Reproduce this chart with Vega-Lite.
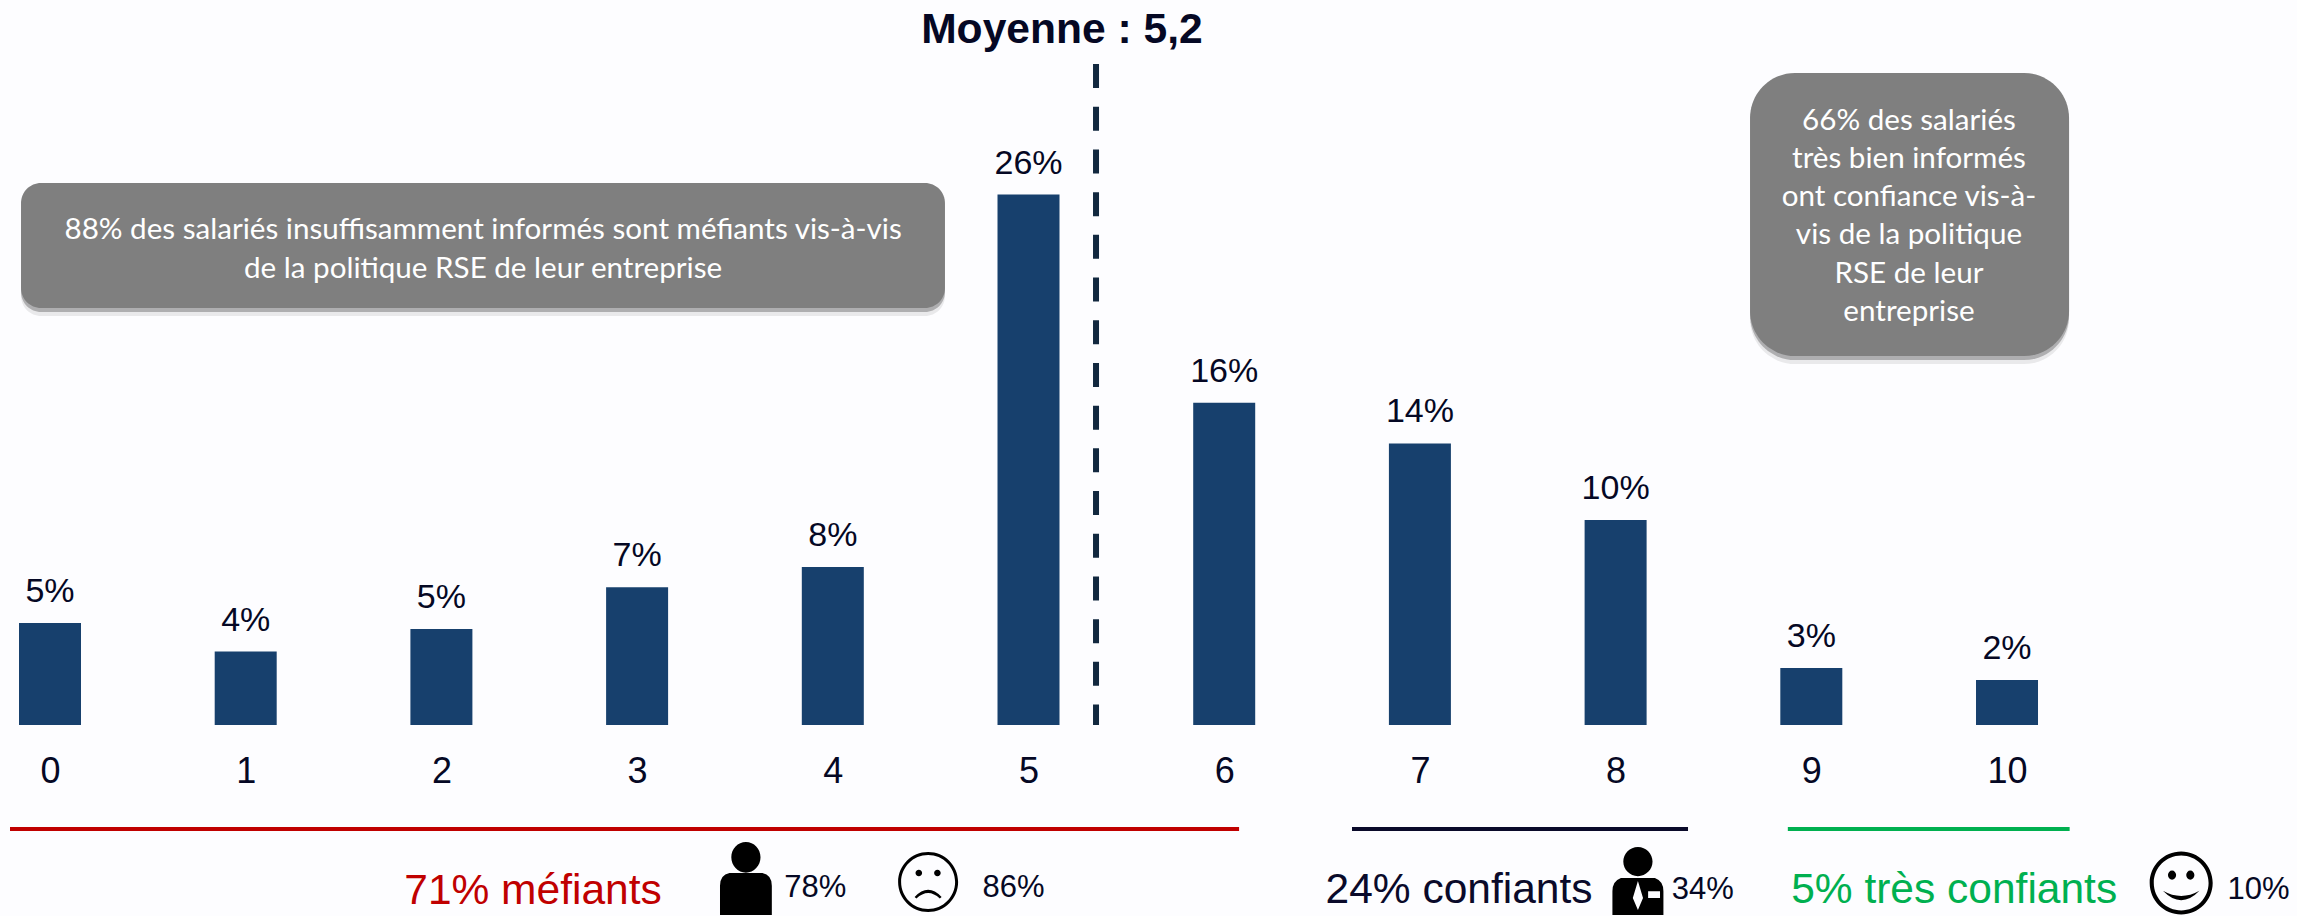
{
"$schema":"https://vega.github.io/schema/vega-lite/v6.json",
"width":2297,"height":916,
"autosize":{"type":"fit","contains":"padding"},
"padding":0,
"background":"#FDFDFF",
"config":{"view":{"stroke":null},"text":{"font":"Liberation Sans","color":"#050824"}},
"datasets":{
"bars":[{"note":0,"part":5.0,"label":"5%"},{"note":1,"part":3.6,"label":"4%"},{"note":2,"part":4.7,"label":"5%"},{"note":3,"part":6.75,"label":"7%"},{"note":4,"part":7.75,"label":"8%"},{"note":5,"part":26.0,"label":"26%"},{"note":6,"part":15.8,"label":"16%"},{"note":7,"part":13.8,"label":"14%"},{"note":8,"part":10.05,"label":"10%"},{"note":9,"part":2.8,"label":"3%"},{"note":10,"part":2.2,"label":"2%"}],
"boxA":[{"a":-0.148,"b":4.573,"lo":20.441,"hi":26.569}],
"boxB":[{"a":8.687,"b":10.317,"lo":18.088,"hi":31.96}],
"notes":[
{"n":2.213,"p":24.265,"t":"88% des salariés insuffisamment informés sont méfiants vis-à-vis"},
{"n":2.213,"p":22.353,"t":"de la politique RSE de leur entreprise"},
{"n":9.499,"p":29.608,"t":"66% des salariés"},
{"n":9.499,"p":27.745,"t":"très bien informés"},
{"n":9.499,"p":25.882,"t":"ont confiance vis-à-"},
{"n":9.499,"p":24.02,"t":"vis de la politique"},
{"n":9.499,"p":22.108,"t":"RSE de leur"},
{"n":9.499,"p":20.245,"t":"entreprise"}],
"groups":[
{"from":-0.2044,"to":6.076,"p":-5.098,"g":"méfiants"},
{"from":6.653,"to":8.37,"p":-5.098,"g":"confiants"},
{"from":8.88,"to":10.32,"p":-5.098,"g":"très confiants"}],
"big":[
{"n":2.468,"p":-8.14,"t":"71% méfiants","g":"méfiants"},
{"n":7.2,"p":-8.09,"t":"24% confiants","g":"confiants"},
{"n":9.73,"p":-8.09,"t":"5% très confiants","g":"très confiants"}],
"small":[
{"n":3.91,"p":-7.99,"t":"78%"},
{"n":4.923,"p":-7.99,"t":"86%"},
{"n":8.445,"p":-8.09,"t":"34%"},
{"n":11.285,"p":-8.09,"t":"10%"}]
},
"layer":[
{"data":{"name":"bars"},"mark":{"type":"bar","size":62,"color":"#17406D"},"encoding":{
"x":{"field":"note","type":"quantitative","scale":{"domain":[-0.2555,11.4818],"nice":false,"zero":false,"padding":0},"axis":{"values":[0,1,2,3,4,5,6,7,8,9,10],"format":"d","title":null,"grid":false,"domain":false,"ticks":false,"labels":true,"offset":-145,"zindex":1,"labelFont":"Liberation Sans","labelFontSize":36,"labelColor":"#050824","labelPadding":0,"labelBaseline":"middle"}},
"y":{"field":"part","type":"quantitative","scale":{"domain":[-9.363,35.539],"nice":false,"zero":false,"padding":0},"axis":null,"stack":null},
"y2":{"datum":0}}},
{"data":{"name":"boxA"},"mark":{"type":"rect","cornerRadius":20,"fill":"#000000","opacity":0.08,"yOffset":8,"y2Offset":8},"encoding":{"x":{"field":"a","type":"quantitative"},"x2":{"field":"b"},"y":{"field":"lo","type":"quantitative"},"y2":{"field":"hi"}}},
{"data":{"name":"boxA"},"mark":{"type":"rect","cornerRadius":20,"fill":"#000000","opacity":0.25,"yOffset":4,"y2Offset":4},"encoding":{"x":{"field":"a","type":"quantitative"},"x2":{"field":"b"},"y":{"field":"lo","type":"quantitative"},"y2":{"field":"hi"}}},
{"data":{"name":"boxA"},"mark":{"type":"rect","cornerRadius":20,"fill":"#7F7F7F"},"encoding":{"x":{"field":"a","type":"quantitative"},"x2":{"field":"b"},"y":{"field":"lo","type":"quantitative"},"y2":{"field":"hi"}}},
{"data":{"name":"boxB"},"mark":{"type":"rect","cornerRadius":45,"fill":"#000000","opacity":0.08,"yOffset":8,"y2Offset":8},"encoding":{"x":{"field":"a","type":"quantitative"},"x2":{"field":"b"},"y":{"field":"lo","type":"quantitative"},"y2":{"field":"hi"}}},
{"data":{"name":"boxB"},"mark":{"type":"rect","cornerRadius":45,"fill":"#000000","opacity":0.25,"yOffset":4,"y2Offset":4},"encoding":{"x":{"field":"a","type":"quantitative"},"x2":{"field":"b"},"y":{"field":"lo","type":"quantitative"},"y2":{"field":"hi"}}},
{"data":{"name":"boxB"},"mark":{"type":"rect","cornerRadius":45,"fill":"#7F7F7F"},"encoding":{"x":{"field":"a","type":"quantitative"},"x2":{"field":"b"},"y":{"field":"lo","type":"quantitative"},"y2":{"field":"hi"}}},
{"data":{"name":"notes"},"mark":{"type":"text","font":"Lato","fontSize":29.6,"color":"#FFFFFF","align":"center","baseline":"middle"},"encoding":{"x":{"field":"n","type":"quantitative"},"y":{"field":"p","type":"quantitative"},"text":{"field":"t"}}},
{"data":{"name":"bars"},"mark":{"type":"text","fontSize":34,"align":"center","baseline":"alphabetic","dy":-21},"encoding":{"x":{"field":"note","type":"quantitative"},"y":{"field":"part","type":"quantitative"},"text":{"field":"label"}}},
{"data":{"values":[{"moyenne":5.345,"top":32.4,"bottom":0}]},"mark":{"type":"rule","color":"#12283F","strokeWidth":6,"strokeDash":[24,18.7]},"encoding":{"x":{"field":"moyenne","type":"quantitative"},"y":{"field":"top","type":"quantitative"},"y2":{"field":"bottom"}}},
{"data":{"values":[{"n":5.171,"p":34.07,"t":"Moyenne : 5,2"}]},"mark":{"type":"text","fontSize":42.6,"fontWeight":"bold","align":"center","baseline":"middle"},"encoding":{"x":{"field":"n","type":"quantitative"},"y":{"field":"p","type":"quantitative"},"text":{"field":"t"}}},
{"data":{"name":"groups"},"mark":{"type":"rule","strokeWidth":4},"encoding":{"x":{"field":"from","type":"quantitative"},"x2":{"field":"to"},"y":{"field":"p","type":"quantitative"},"color":{"field":"g","type":"nominal","legend":null,"scale":{"domain":["méfiants","confiants","très confiants"],"range":["#C00000","#0A0A2A","#00B050"]}}}},
{"data":{"name":"big"},"mark":{"type":"text","fontSize":42.5,"align":"center","baseline":"middle"},"encoding":{"x":{"field":"n","type":"quantitative"},"y":{"field":"p","type":"quantitative"},"text":{"field":"t"},"color":{"field":"g","type":"nominal","legend":null,"scale":{"domain":["méfiants","confiants","très confiants"],"range":["#C00000","#0A0A2A","#00B050"]}}}},
{"data":{"name":"small"},"mark":{"type":"text","fontSize":31,"align":"center","baseline":"middle"},"encoding":{"x":{"field":"n","type":"quantitative"},"y":{"field":"p","type":"quantitative"},"text":{"field":"t"}}},
{"data":{"values":[{"n":3.556,"p":-7.525}]},"mark":{"type":"point","filled":true,"opacity":1,"color":"#000000","strokeWidth":0,"size":5329,"shape":"M-0.4 -0.58 A0.4 0.42 0 1 1 0.4 -0.58 A0.4 0.42 0 1 1 -0.4 -0.58Z M-0.45 -0.15 L0.45 -0.15 Q0.71 -0.1 0.71 0.2 L0.71 1 L-0.71 1 L-0.71 0.2 Q-0.71 -0.1 -0.45 -0.15Z"},"encoding":{"x":{"field":"n","type":"quantitative"},"y":{"field":"p","type":"quantitative"}}},
{"data":{"values":[{"n":8.114,"p":-7.647}]},"mark":{"type":"point","filled":true,"opacity":1,"color":"#000000","strokeWidth":0,"size":4624,"shape":"M-0.43 -0.57 A0.43 0.43 0 1 1 0.43 -0.57 A0.43 0.43 0 1 1 -0.43 -0.57Z M-0.5 -0.09 L0.5 -0.09 Q0.75 0 0.75 0.3 L0.75 1 L-0.75 1 L-0.75 0.3 Q-0.75 0 -0.5 -0.09Z M0 0 L-0.15 0.5 L0 0.85 L0.15 0.5Z M0.3 0.3 L0.3 0.5 L0.65 0.5 L0.65 0.3Z"},"encoding":{"x":{"field":"n","type":"quantitative"},"y":{"field":"p","type":"quantitative"}}},
{"data":{"values":[{"n":4.487,"p":-7.696}]},"mark":{"type":"point","filled":true,"opacity":1,"color":"#000000","strokeWidth":0,"size":3600,"shape":"M-1 0 A1 1 0 1 1 1 0 A1 1 0 1 1 -1 0Z M-0.9 0 A0.9 0.9 0 1 0 0.9 0 A0.9 0.9 0 1 0 -0.9 0Z M-0.42 -0.3 A0.11 0.11 0 1 1 -0.2 -0.3 A0.11 0.11 0 1 1 -0.42 -0.3Z M0.2 -0.3 A0.11 0.11 0 1 1 0.42 -0.3 A0.11 0.11 0 1 1 0.2 -0.3Z M-0.45 0.5 Q0 0.02 0.45 0.5 L0.39 0.55 Q0 0.18 -0.39 0.55Z"},"encoding":{"x":{"field":"n","type":"quantitative"},"y":{"field":"p","type":"quantitative"}}},
{"data":{"values":[{"n":10.89,"p":-7.745}]},"mark":{"type":"point","filled":true,"opacity":1,"color":"#000000","strokeWidth":0,"size":3969,"shape":"M-1 0 A1 1 0 1 1 1 0 A1 1 0 1 1 -1 0Z M-0.87 0 A0.87 0.87 0 1 0 0.87 0 A0.87 0.87 0 1 0 -0.87 0Z M-0.42 -0.25 A0.13 0.15 0 1 1 -0.16 -0.25 A0.13 0.15 0 1 1 -0.42 -0.25Z M0.16 -0.25 A0.13 0.15 0 1 1 0.42 -0.25 A0.13 0.15 0 1 1 0.16 -0.25Z M-0.58 0.25 Q0 0.85 0.58 0.25 Q0 0.58 -0.58 0.25Z"},"encoding":{"x":{"field":"n","type":"quantitative"},"y":{"field":"p","type":"quantitative"}}}
]
}
